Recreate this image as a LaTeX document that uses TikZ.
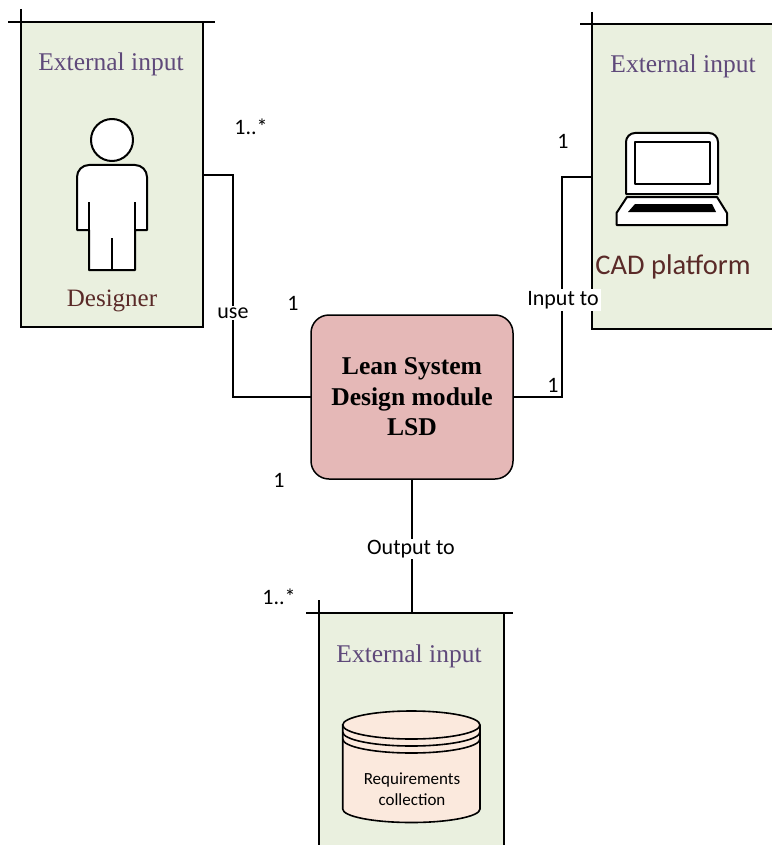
\documentclass[tikz,border=0pt]{standalone}
\usepackage{fontspec}
\setmainfont{Liberation Serif}
\newfontfamily\carlito{Carlito}
\definecolor{panelgreen}{HTML}{EAF0DF}
\definecolor{lsdpink}{HTML}{E5B8B7}
\definecolor{peach}{HTML}{FBE9DD}
\definecolor{extpurple}{HTML}{5F497A}
\definecolor{brownred}{HTML}{5A2A28}
\tikzset{
  panel/.style={fill=panelgreen,draw=none,inner sep=0pt,outer sep=0pt},
  edgeline/.style={line width=1.4pt,black},
  topedge/.style={line width=1.8pt,black},
  extlabel/.style={font=\fontsize{25.5}{28}\selectfont,text=extpurple,inner sep=0pt},
  namelabel/.style={font=\fontsize{25}{28}\selectfont,text=brownred,inner sep=0pt},
  small/.style={font=\carlito\fontsize{22}{24}\selectfont,text=black,inner sep=0pt},
  whitelabel/.style={small,fill=white,inner sep=2pt},
  conn/.style={line width=1.6pt,black},
  icon/.style={line width=2pt,black,fill=white,line join=round},
  lsdbox/.style={draw=black,line width=1.5pt,fill=lsdpink,rounded corners=18pt,minimum width=202pt,minimum height=164pt,inner sep=0pt,outer sep=0pt,align=center,font=\bfseries\fontsize{25.6}{30.5}\selectfont}
}
\begin{document}
\begin{tikzpicture}[x=1pt,y=-1pt]
\useasboundingbox (0,0) rectangle (772,845);
% panels
\node[panel,minimum width=182pt,minimum height=305pt] (designer) at (112,174.5) {};
\node[panel,minimum width=180pt,minimum height=305pt] (cad) at (682,176.5) {};
\node[panel,minimum width=185pt,minimum height=232pt] (store) at (411.5,729) {};
% designer panel edges
\draw[edgeline] (designer.north east) -- (designer.south east) -- (designer.south west) -- (designer.north west);
\draw[topedge] (21,9) -- (21,97);
\draw[topedge] (8,22) -- (215,22);
% CAD panel edges
\draw[edgeline] (cad.north west) -- (cad.south west) -- (cad.south east);
\draw[topedge] (592,12) -- (592,98);
\draw[topedge] (580,24) -- (772,24);
% store panel edges
\draw[topedge] (store.south west) -- (319,600);
\draw[topedge] (store.south east) -- (store.north east);
\draw[topedge] (306,613) -- (513,613);
% panel titles
\node[extlabel] (t1) at (111,64.5) {External input};
\node[extlabel] (t2) at (683,66.5) {External input};
\node[extlabel] (t3) at (409,656.5) {External input};
\node[namelabel] (dname) at (112,301) {Designer};
\node[font=\carlito\fontsize{28.5}{30}\selectfont,text=brownred,inner sep=0pt] (cname) at (673,267) {CAD platform};
% person
\draw[icon] (77,230) -- (77,177) arc[start angle=180,end angle=270,radius=12] -- (135,165) arc[start angle=270,end angle=360,radius=12] -- (147,230) -- (135,230) -- (135,270) -- (89,270) -- (89,230) -- cycle;
\draw[icon] (112,140) circle[radius=21];
\draw[icon,fill=none] (89,202) -- (89,230);
\draw[icon,fill=none] (135,202) -- (135,230);
\draw[icon,fill=none] (112,238) -- (112,270);
% laptop
\draw[icon] (626,194) -- (626,142) arc[start angle=180,end angle=270,radius=9] -- (709,133) arc[start angle=270,end angle=360,radius=9] -- (718,194) -- cycle;
\draw[icon] (634.5,142.5) rectangle (710,184);
\draw[icon] (627,197) -- (717,197) -- (727,213) -- (727,225) -- (616.5,225) -- (616.5,213) -- cycle;
\fill[black] (635,204) -- (712,204) -- (716,212) -- (628,212) -- cycle;
% cylinder
\draw[line width=1.6pt,black,fill=peach] (342.7,725) -- (342.7,809) arc[start angle=180,end angle=0,x radius=68.65,y radius=13.5] -- (480,725) arc[start angle=0,end angle=-180,x radius=68.65,y radius=14] -- cycle;
\draw[line width=1.6pt,black] (342.7,725) arc[start angle=180,end angle=0,x radius=68.65,y radius=14];
\draw[line width=1.6pt,black] (342.7,732) arc[start angle=180,end angle=0,x radius=68.65,y radius=14];
\draw[line width=1.6pt,black] (342.7,739) arc[start angle=180,end angle=0,x radius=68.65,y radius=14];
\node[font=\carlito\fontsize{17}{21}\selectfont,inner sep=0pt,align=center] (req) at (412,789.5) {Requirements\\collection};
% central module
\node[lsdbox] (lsd) at (412,397) {Lean System\\Design module\\LSD};
% connectors
\coordinate (dport) at (designer.east |- 0,175);
\coordinate (cport) at (cad.west |- 0,177);
\draw[conn] (dport) -- (233,175) -- (233,397) -- (lsd.west);
\draw[conn] (cport) -- (562,177) -- (562,397) -- (lsd.east);
\draw[conn] (lsd.south) -- (lsd.south |- store.north);
% connector labels
\node[whitelabel] (use) at (233,313) {use};
\node[whitelabel] (input) at (563,300) {Input to};
\node[whitelabel,inner xsep=2pt,inner ysep=1pt] (outp) at (411,549) {Output to};
\node[small] (m1) at (251,127) {1..*};
\node[small] (m2) at (293,303) {1};
\node[small] (m3) at (279,480) {1};
\node[small] (m4) at (563,141) {1};
\node[small,fill=white,inner xsep=2pt,inner ysep=0pt] (m5) at (553,385) {1};
\node[small] (m6) at (279,597) {1..*};
\end{tikzpicture}
\end{document}
